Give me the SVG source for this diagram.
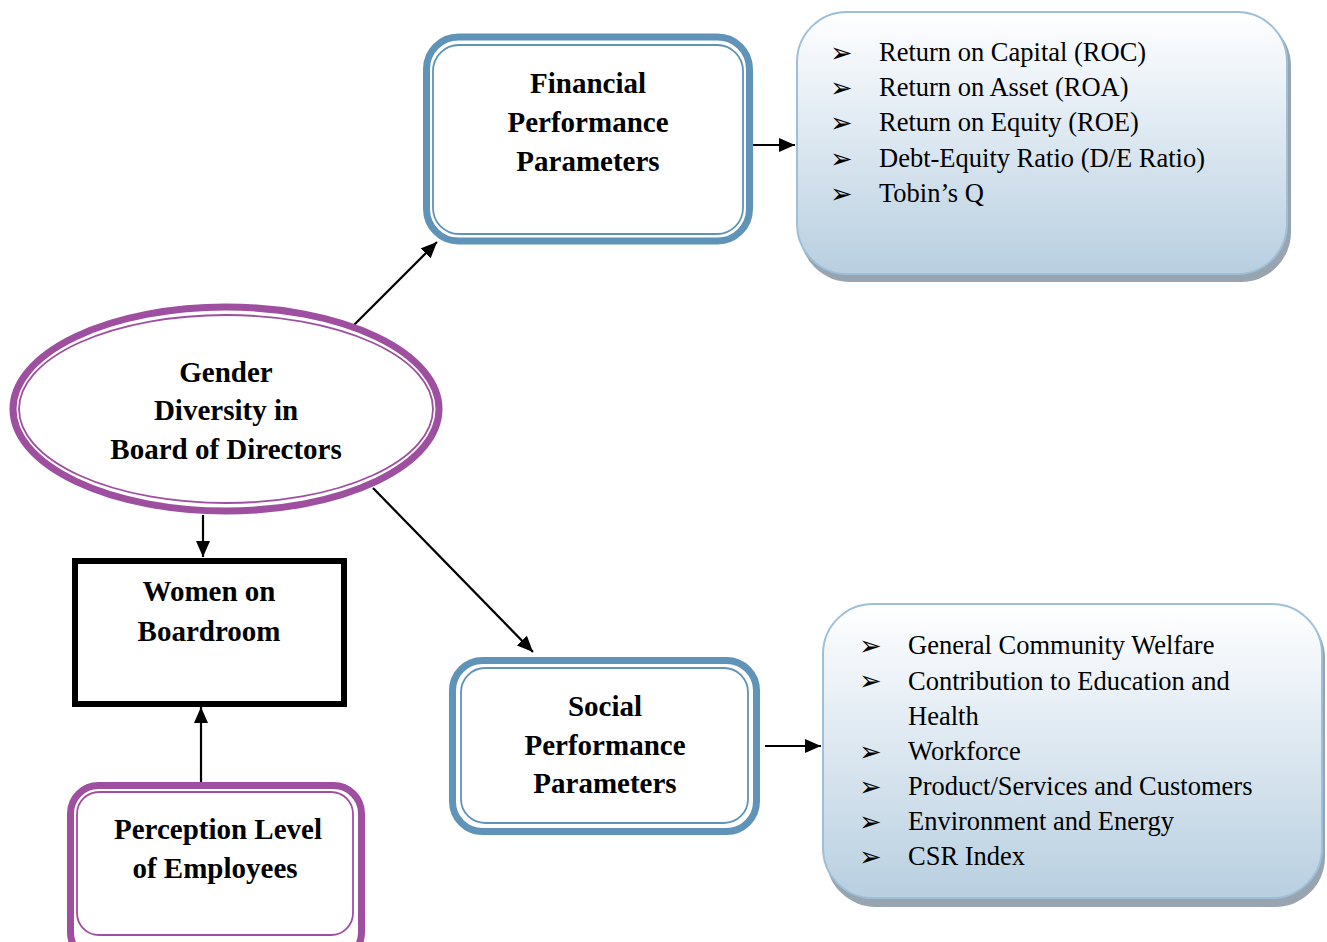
<svg xmlns="http://www.w3.org/2000/svg" width="1327" height="942" viewBox="0 0 1327 942">
  <style>
    .title { font-family: "Liberation Serif", "Times New Roman", serif; font-weight: bold; font-size: 29px; fill: #000; text-anchor: middle; }
    .item { font-family: "Liberation Serif", "Times New Roman", serif; font-size: 26.5px; fill: #000; }
    .bul { font-family: "DejaVu Sans", sans-serif; font-size: 27px; fill: #000; }
    .blue-outer { fill: #fff; stroke: #5f93b8; stroke-width: 7; }
    .blue-inner { fill: none; stroke: #5f93b8; stroke-width: 1.8; }
    .purple-outer { fill: #fff; stroke: #9e4fa0; stroke-width: 7; }
    .purple-inner { fill: none; stroke: #9e4fa0; stroke-width: 1.8; }
    .panel { fill: url(#panelFill); stroke: #9fbfd8; stroke-width: 2; }
    .shadow { fill: #98a5b0; }
    .conn { stroke: #000; stroke-width: 2.2; fill: none; marker-end: url(#arrow); }
  </style>
  <defs>
    <linearGradient id="panelFill" x1="0" y1="0" x2="0" y2="1">
      <stop offset="0" stop-color="#ffffff"/>
      <stop offset="0.35" stop-color="#e6eef5"/>
      <stop offset="1" stop-color="#b8cfe0"/>
    </linearGradient>
    <marker id="arrow" markerUnits="userSpaceOnUse" markerWidth="18" markerHeight="14" refX="16" refY="7" orient="auto">
      <path d="M0,0 L16,7 L0,14 Z" fill="#000"/>
    </marker>
  </defs>

  <rect width="1327" height="942" fill="#fff"/>

  <!-- connectors -->
  <g id="connectors">
    <line class="conn" x1="352" y1="327" x2="437" y2="242"/>
    <line class="conn" x1="373" y1="488" x2="533" y2="652"/>
    <line class="conn" x1="203" y1="515" x2="203" y2="557"/>
    <line class="conn" x1="201" y1="782" x2="201" y2="707"/>
    <line class="conn" x1="748" y1="145" x2="795" y2="145"/>
    <line class="conn" x1="765" y1="746" x2="821" y2="746"/>
  </g>

  <!-- central ellipse -->
  <g id="gender-diversity">
    <ellipse class="purple-outer" cx="226" cy="409" rx="213" ry="102"/>
    <ellipse class="purple-inner" cx="226" cy="409" rx="207" ry="94"/>
    <text class="title" x="226" y="382">Gender</text>
    <text class="title" x="226" y="420">Diversity in</text>
    <text class="title" x="226" y="459">Board of Directors</text>
  </g>

  <!-- financial performance -->
  <g id="financial-performance">
    <rect class="blue-outer" x="426.5" y="37" width="323" height="204" rx="32" ry="32"/>
    <rect class="blue-inner" x="433" y="45" width="310" height="189" rx="26" ry="26"/>
    <text class="title" x="588" y="93">Financial</text>
    <text class="title" x="588" y="132">Performance</text>
    <text class="title" x="588" y="171">Parameters</text>
  </g>

  <!-- financial indicators -->
  <g id="financial-indicators">
    <rect class="shadow" x="800" y="16" width="491" height="266" rx="50" ry="50"/>
    <rect class="panel" x="797" y="12" width="490" height="262" rx="50" ry="50"/>
    <g class="bul">
      <text x="830" y="62">➢</text>
      <text x="830" y="97">➢</text>
      <text x="830" y="132">➢</text>
      <text x="830" y="168">➢</text>
      <text x="830" y="203">➢</text>
    </g>
    <g class="item">
      <text x="879" y="61">Return on Capital (ROC)</text>
      <text x="879" y="96">Return on Asset (ROA)</text>
      <text x="879" y="131">Return on Equity (ROE)</text>
      <text x="879" y="167">Debt-Equity Ratio (D/E Ratio)</text>
      <text x="879" y="202">Tobin’s Q</text>
    </g>
  </g>

  <!-- women on boardroom -->
  <g id="women-on-boardroom">
    <rect x="75" y="561" width="269" height="143" fill="#fff" stroke="#000" stroke-width="6"/>
    <text class="title" x="209" y="601">Women on</text>
    <text class="title" x="209" y="641">Boardroom</text>
  </g>

  <!-- perception level -->
  <g id="perception-level">
    <rect class="purple-outer" x="70.5" y="785.5" width="291" height="175" rx="28" ry="28"/>
    <rect class="purple-inner" x="77" y="792" width="276" height="143" rx="22" ry="22"/>
    <text class="title" x="218" y="839">Perception Level</text>
    <text class="title" x="215" y="878">of Employees</text>
  </g>

  <!-- social performance -->
  <g id="social-performance">
    <rect class="blue-outer" x="452.5" y="660.5" width="304" height="171" rx="30" ry="30"/>
    <rect class="blue-inner" x="461" y="668" width="287" height="155" rx="24" ry="24"/>
    <text class="title" x="605" y="716">Social</text>
    <text class="title" x="605" y="755">Performance</text>
    <text class="title" x="605" y="793">Parameters</text>
  </g>

  <!-- social indicators -->
  <g id="social-indicators">
    <rect class="shadow" x="826" y="608" width="499" height="299" rx="50" ry="50"/>
    <rect class="panel" x="823" y="604" width="499" height="294" rx="50" ry="50"/>
    <g class="bul">
      <text x="859" y="655">➢</text>
      <text x="859" y="690">➢</text>
      <text x="859" y="761">➢</text>
      <text x="859" y="796">➢</text>
      <text x="859" y="831">➢</text>
      <text x="859" y="866">➢</text>
    </g>
    <g class="item">
      <text x="908" y="654">General Community Welfare</text>
      <text x="908" y="690">Contribution to Education and</text>
      <text x="908" y="725">Health</text>
      <text x="908" y="760">Workforce</text>
      <text x="908" y="795">Product/Services and Customers</text>
      <text x="908" y="830">Environment and Energy</text>
      <text x="908" y="865">CSR Index</text>
    </g>
  </g>
</svg>
